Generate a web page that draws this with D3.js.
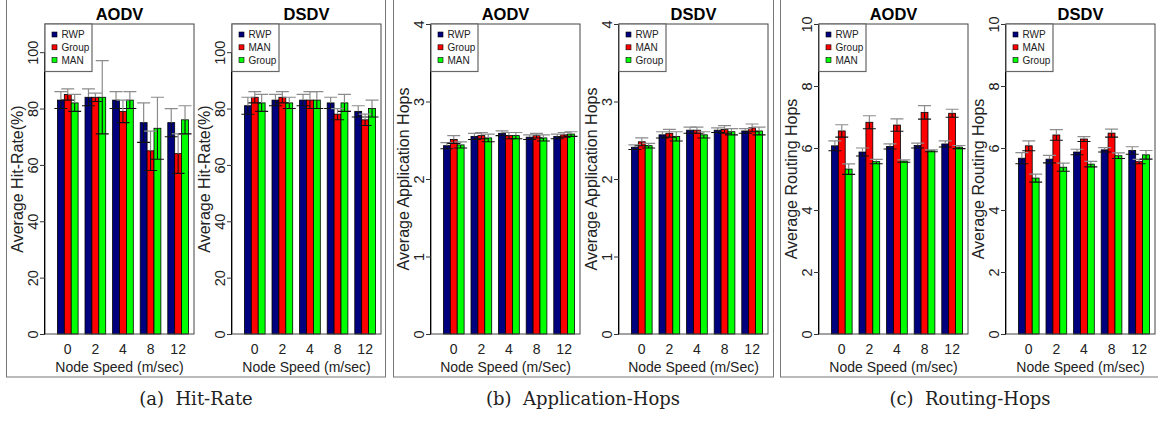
<!DOCTYPE html>
<html>
<head>
	<title>hit rate and hops</title>
	<style>
		body { margin: 0; background: #fff; }
		text { font-family: "Liberation Sans", Arial, sans-serif; }
	</style>
</head>
<body>
<svg width="1158" height="421"></svg>
<script src="https://d3js.org/d3.v7.min.js"></script>
<script>

    // node speeds (m/sec)
    var speeds = ["0", "2", "4", "8", "12"];

    var aodvLegend = ["RWP", "Group", "MAN"];
    var dsdvLegend = ["RWP", "MAN", "Group"];

    // (a) hit-rate, rows follow the legend order
    var hitAodvMean = [[83, 84, 83, 75, 75], [85, 84, 79, 65, 64], [82, 84, 83, 73, 76]];
    var hitAodvErr = [[3, 3, 3, 7, 5], [2, 1.5, 4, 7, 7], [3, 13, 3, 11, 5]];
    var hitDsdvMean = [[81, 83, 83, 82, 79], [84, 84, 83, 78, 76], [82, 82, 83, 82, 80]];
    var hitDsdvErr = [[3, 2, 2, 2, 2], [2, 2, 3, 2, 2], [3, 2, 3, 3, 3]];

    // (b) application hops
    var appAodvMean = [[2.43, 2.55, 2.59, 2.54, 2.55], [2.51, 2.56, 2.56, 2.56, 2.57], [2.44, 2.53, 2.56, 2.53, 2.58]];
    var appAodvErr = [[0.04, 0.04, 0.03, 0.03, 0.03], [0.05, 0.04, 0.04, 0.03, 0.03], [0.04, 0.05, 0.04, 0.04, 0.03]];
    var appDsdvMean = [[2.41, 2.57, 2.63, 2.63, 2.62], [2.48, 2.59, 2.63, 2.64, 2.66], [2.43, 2.55, 2.57, 2.61, 2.62]];
    var appDsdvErr = [[0.03, 0.04, 0.04, 0.03, 0.03], [0.05, 0.05, 0.04, 0.05, 0.05], [0.03, 0.06, 0.04, 0.04, 0.05]];

    // (c) routing hops
    var routAodvMean = [[6.07, 5.87, 6.05, 6.08, 6.13], [6.55, 6.83, 6.74, 7.15, 7.12], [5.32, 5.56, 5.58, 5.91, 6.03]];
    var routAodvErr = [[0.16, 0.13, 0.08, 0.08, 0.1], [0.2, 0.21, 0.2, 0.22, 0.13], [0.17, 0.07, 0.04, 0.03, 0.05]];
    var routDsdvMean = [[5.67, 5.64, 5.87, 5.94, 5.92], [6.07, 6.42, 6.29, 6.48, 5.56], [5.03, 5.38, 5.48, 5.75, 5.78]];
    var routDsdvErr = [[0.18, 0.12, 0.09, 0.07, 0.12], [0.16, 0.17, 0.08, 0.13, 0.07], [0.13, 0.13, 0.09, 0.09, 0.14]];

    var hitTicks = [0, 20, 40, 60, 80, 100];
    var appTicks = [0, 1, 2, 3, 4];
    var routTicks = [0, 2, 4, 6, 8, 10];

    var captions = ["(a)\u00a0\u00a0Hit-Rate", "(b)\u00a0\u00a0Application-Hops", "(c)\u00a0\u00a0Routing-Hops"];

    var barColors = ["#00007f", "#ff0000", "#00ff00"];

    var svg = d3.select("svg"),
        plotTop = 24, plotBottom = 334, plotW = 149;

    // outer frames of the three sub-figures
    [[6, 385], [393, 773], [780, 1170]].forEach(function (f) {
        svg.append("rect")
            .attr("x", f[0] + 0.5).attr("y", -2)
            .attr("width", f[1] - f[0]).attr("height", 379)
            .attr("fill", "none").attr("stroke", "#777").attr("stroke-width", 1);
    });

    var charts = [
        { left: 45, title: "AODV", mean: hitAodvMean, err: hitAodvErr, legend: aodvLegend, ymax: 110, ticks: hitTicks, ylab: "Average Hit-Rate(%)", xlab: "Node Speed (m/sec)" },
        { left: 232, title: "DSDV", mean: hitDsdvMean, err: hitDsdvErr, legend: dsdvLegend, ymax: 110, ticks: hitTicks, ylab: "Average Hit-Rate(%)", xlab: "Node Speed (m/sec)" },
        { left: 431, title: "AODV", mean: appAodvMean, err: appAodvErr, legend: aodvLegend, ymax: 4, ticks: appTicks, ylab: "Average Application Hops", xlab: "Node Speed (m/Sec)" },
        { left: 619, title: "DSDV", mean: appDsdvMean, err: appDsdvErr, legend: dsdvLegend, ymax: 4, ticks: appTicks, ylab: "Average Application Hops", xlab: "Node Speed (m/Sec)" },
        { left: 819, title: "AODV", mean: routAodvMean, err: routAodvErr, legend: aodvLegend, ymax: 10, ticks: routTicks, ylab: "Average Routing Hops", xlab: "Node Speed (m/sec)" },
        { left: 1006, title: "DSDV", mean: routDsdvMean, err: routDsdvErr, legend: dsdvLegend, ymax: 10, ticks: routTicks, ylab: "Average Routing Hops", xlab: "Node Speed (m/sec)" }
    ];

    charts.forEach(drawChart);

    function drawChart(c) {
        var g = svg.append("g").attr("transform", "translate(" + c.left + "," + plotTop + ")"),
            height = plotBottom - plotTop;

        // barplot units: 5 groups of 3 bars + 1 gap, 4% padding like R
        var u = d3.scaleLinear().domain([-0.8, 20.8]).range([0, plotW]);
        var x0 = d3.scaleBand().domain(speeds)
            .range([u(1), u(20)]).paddingInner(0.25).paddingOuter(0);
        var x1 = d3.scaleBand().domain(d3.range(3)).range([0, x0.bandwidth()]);
        var y = d3.scaleLinear().domain([0, c.ymax]).range([height, 0]);

        var cells = [];
        c.mean.forEach(function (row, s) {
            row.forEach(function (v, i) {
                cells.push({ s: s, sp: speeds[i], v: v, e: c.err[s][i] });
            });
        });

        g.selectAll(".bar").data(cells).enter().append("rect")
            .attr("class", "bar")
            .attr("x", function (d) { return x0(d.sp) + x1(d.s); })
            .attr("y", function (d) { return y(d.v); })
            .attr("width", x1.bandwidth())
            .attr("height", function (d) { return height - y(d.v); })
            .attr("fill", function (d) { return barColors[d.s]; })
            .attr("stroke", "#000").attr("stroke-width", 0.8);

        // error bars: upper half grey, lower half black
        var eb = g.selectAll(".err").data(cells).enter().append("g").attr("class", "err")
            .attr("transform", function (d) { return "translate(" + (x0(d.sp) + x1(d.s) + x1.bandwidth() / 2) + ",0)"; });
        eb.append("path")
            .attr("d", function (d) { return "M0," + y(d.v) + "V" + y(d.v + d.e) + "M-6.5," + y(d.v + d.e) + "H6.5"; })
            .attr("stroke", "#8c8c8c").attr("stroke-width", 1.2).attr("fill", "none");
        eb.append("path")
            .attr("d", function (d) { return "M0," + y(d.v) + "V" + y(d.v - d.e) + "M-6.5," + y(d.v - d.e) + "H6.5"; })
            .attr("stroke", "#111").attr("stroke-width", 1.1).attr("fill", "none");

        // plot box
        g.append("rect").attr("x", 0).attr("y", 0).attr("width", plotW).attr("height", height)
            .attr("fill", "none").attr("stroke", "#444").attr("stroke-width", 1);

        // y axis, R style rotated labels
        var ya = g.append("g").call(d3.axisLeft(y).tickValues(c.ticks).tickSize(5).tickFormat(d3.format("d")));
        ya.select(".domain").attr("d", "M-0.5," + y(0) + "V" + y(c.ticks[c.ticks.length - 1]));
        ya.selectAll("line").attr("stroke", "#333");
        ya.selectAll("text")
            .attr("transform", "rotate(-90)")
            .attr("x", 0).attr("y", -7).attr("dy", 0)
            .attr("text-anchor", "middle")
            .attr("font-size", 14.5).attr("fill", "#222")
            .style("font-family", "'Liberation Sans', Arial, sans-serif");

        g.append("text")
            .attr("transform", "translate(-22," + (height / 2) + ") rotate(-90)")
            .attr("text-anchor", "middle").attr("font-size", 16).attr("fill", "#222")
            .text(c.ylab);

        // group labels
        g.selectAll(".xl").data(speeds).enter().append("text")
            .attr("class", "xl")
            .attr("x", function (d) { return x0(d) + x0.bandwidth() / 2; })
            .attr("y", height + 19.5)
            .attr("text-anchor", "middle").attr("font-size", 14).attr("fill", "#222")
            .text(function (d) { return d; });

        g.append("text")
            .attr("x", plotW / 2).attr("y", height + 38)
            .attr("text-anchor", "middle").attr("font-size", 14).attr("fill", "#222")
            .text(c.xlab);

        g.append("text")
            .attr("x", plotW / 2).attr("y", -4)
            .attr("text-anchor", "middle").attr("font-size", 16.5).attr("font-weight", "bold")
            .text(c.title);

        // legend
        var lg = g.append("g");
        lg.append("rect").attr("x", 0).attr("y", 0).attr("width", 47).attr("height", 47.5)
            .attr("fill", "#fff").attr("stroke", "#666").attr("stroke-width", 1.2);
        c.legend.forEach(function (name, i) {
            lg.append("rect").attr("x", 7).attr("y", 8 + i * 12.8).attr("width", 5).attr("height", 5)
                .attr("fill", barColors[i]).attr("stroke", "#000").attr("stroke-width", 0.6);
            lg.append("text").attr("x", 16.5).attr("y", 14.2 + i * 12.8)
                .attr("font-size", 10).attr("fill", "#222").text(name);
        });
    }

    // sub-figure captions
    [196, 583, 970].forEach(function (cx, i) {
        svg.append("text")
            .attr("x", cx).attr("y", 405)
            .attr("text-anchor", "middle")
            .style("font-family", "'DejaVu Serif', serif")
            .attr("font-size", 18).attr("fill", "#222")
            .text(captions[i]);
    });

</script>
</body>
</html>
